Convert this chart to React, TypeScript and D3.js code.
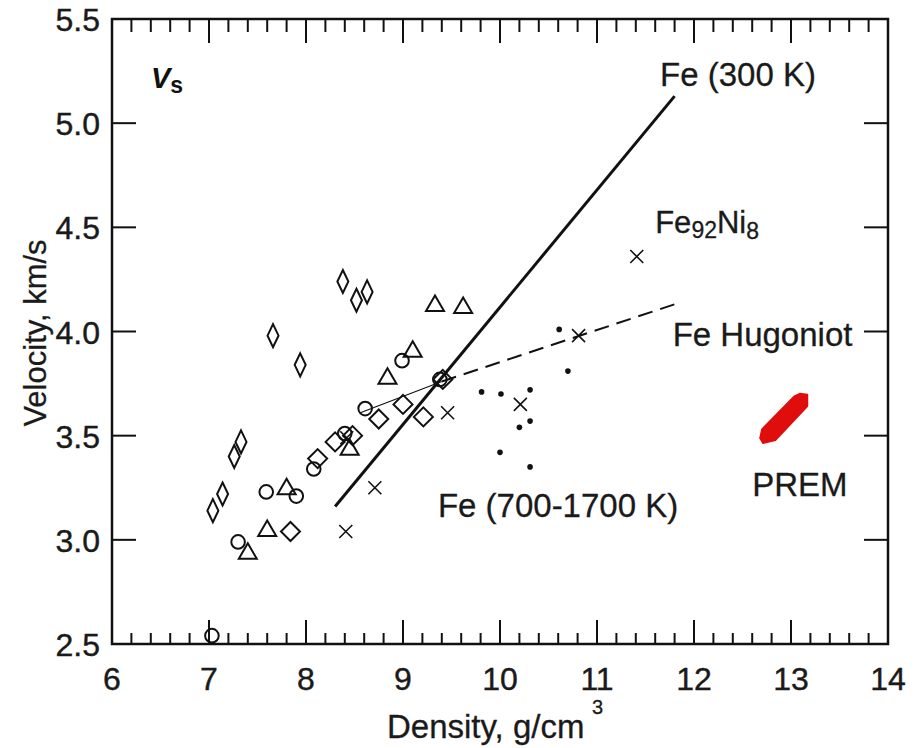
import React from 'react';
import * as d3 from 'd3';

const W = 921;
const H = 748;

// Axis ticks
const xMajorTicks = [6, 7, 8, 9, 10, 11, 12, 13, 14];
const yMajorTicks = [2.5, 3.0, 3.5, 4.0, 4.5, 5.0, 5.5];

// Data series (density g/cm3, Vs km/s)
const narrowDiamondX = [7.04, 7.14, 7.26, 7.33, 7.66, 7.94, 8.38, 8.52, 8.63];
const narrowDiamondY = [3.14, 3.22, 3.40, 3.47, 3.98, 3.84, 4.24, 4.15, 4.19];
const diamondX = [7.84, 8.12, 8.30, 8.48, 8.75, 9.00, 9.21, 9.41];
const diamondY = [3.04, 3.39, 3.47, 3.50, 3.58, 3.65, 3.59, 3.77];
const circleX = [7.03, 7.30, 7.59, 7.90, 8.08, 8.40, 8.61, 8.99, 9.38];
const circleY = [2.54, 2.99, 3.23, 3.21, 3.34, 3.51, 3.63, 3.86, 3.77];
const triangleX = [7.40, 7.60, 7.80, 8.45, 8.84, 9.10, 9.33, 9.62];
const triangleY = [2.94, 3.05, 3.25, 3.44, 3.78, 3.91, 4.13, 4.12];
const crossX = [8.41, 8.42, 8.71, 9.46, 10.21, 10.81, 11.41];
const crossY = [3.04, 3.49, 3.25, 3.61, 3.65, 3.98, 4.36];
const dotX = [9.81, 10.01, 10.0, 10.20, 10.31, 10.31, 10.31, 10.61, 10.70];
const dotY = [3.71, 3.70, 3.42, 3.54, 3.72, 3.57, 3.35, 4.01, 3.81];

// Lines
const fe300X = [8.30, 11.80];
const fe300Y = [3.16, 5.13];
const hugoniotSolidX = [8.56, 9.40];
const hugoniotSolidY = [3.61, 3.76];
const hugoniotDashX = [9.40, 11.86];
const hugoniotDashY = [3.76, 4.14];

// PREM inner-core region outline
const premX = [13.03, 13.09, 13.17, 13.17, 12.84, 12.71, 12.68, 12.70];
const premY = [3.688, 3.702, 3.698, 3.641, 3.478, 3.464, 3.488, 3.531];

// Annotations (anchored in data coordinates)
const annFe300 = { x: 11.65, y: 5.18, text: 'Fe (300 K)' };
const annHug = { x: 11.78, y: 3.93, text: 'Fe Hugoniot' };
const annHot = { x: 9.36, y: 3.11, text: 'Fe (700-1700 K)' };
const annPrem = { x: 12.60, y: 3.21, text: 'PREM' };
const annNi = { x: 11.60, y: 4.475 };

const FONT = '"Liberation Sans", Arial, Helvetica, sans-serif';

export default function App() {
  const left = 112, right = 888, top = 19, bottom = 644;
  const x = d3.scaleLinear().domain([6, 14]).range([left, right]);
  const y = d3.scaleLinear().domain([2.5, 5.5]).range([bottom, top]);

  const minorX = d3.range(6, 14.001, 0.2).filter(v => Math.abs(v - Math.round(v)) > 1e-6);

  const line = d3.line<[number, number]>().x(d => x(d[0])).y(d => y(d[1]));
  const closed = d3.line<[number, number]>().x(d => x(d[0])).y(d => y(d[1])).curve(d3.curveLinearClosed);
  const zip = (a: number[], b: number[]) => a.map((v, i) => [v, b[i]] as [number, number]);

  const sw = 2;
  const narrowDiamond = (cx: number, cy: number) => `M${cx},${cy - 11.5}L${cx + 5.5},${cy}L${cx},${cy + 11.5}L${cx - 5.5},${cy}Z`;
  const wideDiamond = (cx: number, cy: number) => `M${cx},${cy - 9.5}L${cx + 9.5},${cy}L${cx},${cy + 9.5}L${cx - 9.5},${cy}Z`;
  const triangle = (cx: number, cy: number) => `M${cx},${cy - 9}L${cx + 9},${cy + 6.5}L${cx - 9},${cy + 6.5}Z`;
  const cross = (cx: number, cy: number) => `M${cx - 6.5},${cy - 6.5}L${cx + 6.5},${cy + 6.5}M${cx - 6.5},${cy + 6.5}L${cx + 6.5},${cy - 6.5}`;

  const premPath = closed(zip(premX, premY)) || '';

  return (
    <svg width={W} height={H} style={{ position: 'absolute', left: 0, top: 0, background: '#fff' }} fontFamily={FONT}>
      <rect x={0} y={0} width={W} height={H} fill="#fff" />
      {/* ticks */}
      <g stroke="#111" strokeWidth={2}>
        {xMajorTicks.map(t => (
          <g key={'xm' + t}>
            <line x1={x(t)} x2={x(t)} y1={bottom} y2={bottom - 24} />
            <line x1={x(t)} x2={x(t)} y1={top} y2={top + 24} />
          </g>
        ))}
        {minorX.map(t => (
          <g key={'xn' + t}>
            <line x1={x(t)} x2={x(t)} y1={bottom} y2={bottom - 11} />
            <line x1={x(t)} x2={x(t)} y1={top} y2={top + 13} />
          </g>
        ))}
        {yMajorTicks.map(t => (
          <g key={'ym' + t}>
            <line x1={left} x2={left + 24} y1={y(t)} y2={y(t)} />
            <line x1={right} x2={right - 24} y1={y(t)} y2={y(t)} />
          </g>
        ))}
      </g>
      <rect x={left} y={top} width={right - left} height={bottom - top} fill="none" stroke="#111" strokeWidth={2.5} />

      {/* tick labels */}
      <g fill="#1a1a1a" stroke="#1a1a1a" strokeWidth={0.4} fontSize={32}>
        {xMajorTicks.map(t => (
          <text key={'xl' + t} x={x(t)} y={690} textAnchor="middle">{t}</text>
        ))}
        {yMajorTicks.map(t => (
          <text key={'yl' + t} x={100} y={y(t) + 12} textAnchor="end">{t.toFixed(1)}</text>
        ))}
      </g>

      {/* axis titles */}
      <g fill="#1a1a1a" stroke="#1a1a1a" strokeWidth={0.3}>
        <text x={387} y={738} fontSize={33}>Density, g/cm</text>
        <text x={592} y={714} fontSize={20}>3</text>
        <text transform={`translate(46,333) rotate(-90)`} textAnchor="middle" fontSize={31}>Velocity, km/s</text>
      </g>

      {/* Vs */}
      <text x={151} y={88} fontSize={29} fontWeight="bold" fontStyle="italic" fill="#111">V<tspan fontSize={23} fontStyle="normal" dy={5}>s</tspan></text>

      {/* lines */}
      <path d={line(zip(fe300X, fe300Y)) || ''} stroke="#111" strokeWidth={3} fill="none" />
      <path d={line(zip(hugoniotSolidX, hugoniotSolidY)) || ''} stroke="#111" strokeWidth={1.2} fill="none" />
      <path d={line(zip(hugoniotDashX, hugoniotDashY)) || ''} stroke="#111" strokeWidth={2} strokeDasharray="15 8" fill="none" />

      {/* PREM */}
      <path d={premPath} fill="#e00d0d" stroke="#e00d0d" strokeWidth={1.5} strokeLinejoin="round" />

      {/* markers */}
      <g fill="none" stroke="#111" strokeWidth={sw}>
        {narrowDiamondX.map((v, i) => <path key={'nd' + i} d={narrowDiamond(x(v), y(narrowDiamondY[i]))} />)}
        {diamondX.map((v, i) => <path key={'wd' + i} d={wideDiamond(x(v), y(diamondY[i]))} />)}
        {circleX.map((v, i) => <circle key={'c' + i} cx={x(v)} cy={y(circleY[i])} r={6.8} />)}
        {triangleX.map((v, i) => <path key={'t' + i} d={triangle(x(v), y(triangleY[i]))} />)}
        {crossX.map((v, i) => <path key={'x' + i} d={cross(x(v), y(crossY[i]))} strokeWidth={1.6} />)}
      </g>
      <g fill="#111">
        {dotX.map((v, i) => <circle key={'d' + i} cx={x(v)} cy={y(dotY[i])} r={2.8} />)}
      </g>

      {/* annotations */}
      <g fill="#1a1a1a" stroke="#1a1a1a" strokeWidth={0.3} fontSize={33}>
        <text x={x(annFe300.x)} y={y(annFe300.y)}>{annFe300.text}</text>
        <text x={x(annHug.x)} y={y(annHug.y)}>{annHug.text}</text>
        <text x={x(annHot.x)} y={y(annHot.y)}>{annHot.text}</text>
        <text x={x(annPrem.x)} y={y(annPrem.y)}>{annPrem.text}</text>
        <text x={x(annNi.x)} y={y(annNi.y)} fontSize={31}>Fe<tspan fontSize={23} dy={5}>92</tspan><tspan dy={-5}>Ni</tspan><tspan fontSize={23} dy={6}>8</tspan></text>
      </g>
    </svg>
  );
}
